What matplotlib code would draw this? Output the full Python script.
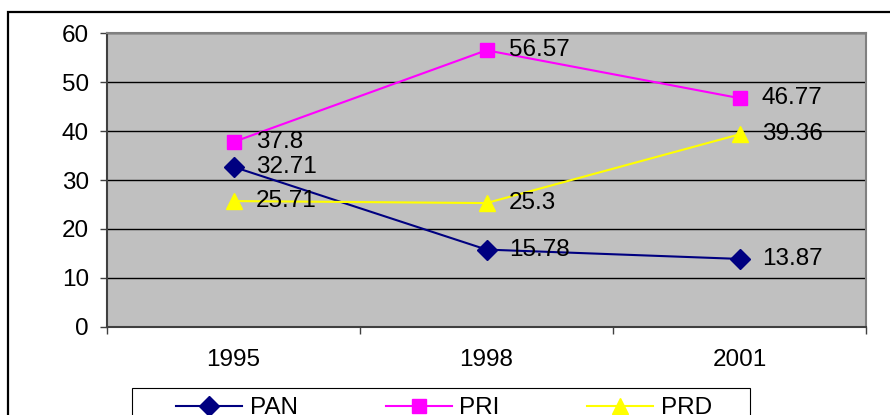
import matplotlib.pyplot as plt
from matplotlib.patches import Rectangle

years = ['1995', '1998', '2001']
pan = [32.71, 15.78, 13.87]
pri = [37.8, 56.57, 46.77]
prd = [25.71, 25.3, 39.36]

W, H = 890, 415
FS = 17.5
plt.rcParams['font.family'] = ['Liberation Sans', 'DejaVu Sans']
fig = plt.figure(figsize=(W / 100, H / 100), dpi=100)
ax = fig.add_axes([107 / W, 1 - 326.7 / H, (866 - 107) / W, (326.7 - 33.5) / H])
ax.set_facecolor('#C0C0C0')

x = list(range(len(years)))
series = [
    ('PAN', pan, '#000080', 'D', 10),
    ('PRI', pri, '#FF00FF', 's', 9.5),
    ('PRD', prd, '#FFFF00', '^', 12),
]
for name, vals, col, mk, ms in series:
    ax.plot(x, vals, color=col, lw=1.5, marker=mk, markersize=ms,
            markeredgecolor=col, markerfacecolor=col, label=name, zorder=3)
    for xi, v in zip(x, vals):
        ax.annotate(f'{v:g}', (xi, v), xytext=(16, 0), textcoords='offset points',
                    ha='left', va='center', fontsize=FS, color='black', zorder=4)

ax.set_xlim(-0.5, 2.5)
ax.set_ylim(0, 60)
ax.set_yticks(range(0, 61, 10))
ax.yaxis.grid(True, color='black', lw=1)
ax.set_axisbelow(True)
ax.tick_params(axis='y', labelsize=FS, length=5, width=1, color='#404040', pad=8)
ax.set_xticks(x)
ax.set_xticklabels(years)
ax.tick_params(axis='x', which='major', length=0, labelsize=FS, pad=16)
ax.set_xticks([-0.5, 0.5, 1.5, 2.5], minor=True)
ax.tick_params(axis='x', which='minor', length=5, width=1, color='#404040')

for s in ['left', 'bottom']:
    ax.spines[s].set_color('#404040')
    ax.spines[s].set_linewidth(1.5)
for s in ['top', 'right']:
    ax.spines[s].set_color('#808080')
    ax.spines[s].set_linewidth(1.5)

fig.legend(loc='center', bbox_to_anchor=(444 / W, 1 - 408 / H), ncol=3,
           frameon=False, fontsize=FS, handlelength=2.72, columnspacing=3.62,
           handletextpad=0.3)

# legend box and outer chart frame (both run off the bottom of the image)
fig.patches.append(Rectangle((132 / W, -0.1), (750 - 132) / W, 0.1 + 1 - 388 / H,
                             transform=fig.transFigure, fill=False,
                             edgecolor='black', lw=0.8))
fig.patches.append(Rectangle((8 / W, -0.1), 1.1, 0.1 + 1 - 12 / H,
                             transform=fig.transFigure, fill=False,
                             edgecolor='black', lw=1.6))

fig.savefig('out.png', dpi=100)
